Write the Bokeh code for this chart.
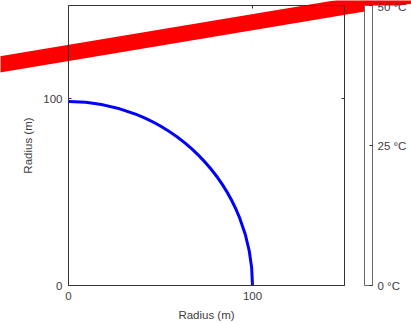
import math
from bokeh.plotting import figure
from bokeh.models import (ColorBar, LinearColorMapper, FixedTicker,
                          PrintfTickFormatter, LinearAxis, Range1d)
from bokeh.embed import file_html
from bokeh.resources import INLINE

# ---- data ----
x_ticks = [0, 100]
y_ticks = [0, 100]
axis_min, axis_max = 0, 150
circle_x = [0]
circle_y = [0]
circle_radius = [100]
red_x = [-50, 200]
red_y = [116.3, 157.5]
cbar_ticks = [0, 25, 50]
cbar_low, cbar_high = 0, 50

FONT = "Liberation Sans"
TXT = "#404040"
LINE = "#333333"

# layout in pixels (the axes box occupies px 68..344 horizontally, 5..285 vertically)
W, H = 411, 323
BOX_L, BOX_R, BOX_T, BOX_B = 68, 344, 5, 285
sx = (BOX_R - BOX_L) / (axis_max - axis_min)
sy = (BOX_B - BOX_T) / (axis_max - axis_min)
x_range = Range1d(axis_min - BOX_L / sx, axis_max + (W - BOX_R) / sx)
y_range = Range1d(axis_min - (H - BOX_B) / sy, axis_max + BOX_T / sy)

p = figure(width=W, height=H, x_range=x_range, y_range=y_range,
           output_backend="svg", toolbar_location=None,
           min_border=0, x_axis_type=None, y_axis_type=None)
p.grid.visible = False
p.outline_line_color = None
p.background_fill_color = "white"
p.border_fill_color = "white"


def make_axis(ticks, loc, label, show_labels):
    ax = LinearAxis(ticker=FixedTicker(ticks=ticks), fixed_location=loc,
                    bounds=(axis_min, axis_max),
                    major_tick_in=3, major_tick_out=0, minor_tick_line_color=None,
                    axis_line_color=LINE, major_tick_line_color=LINE,
                    major_label_text_font=FONT, major_label_text_font_size="11.5px",
                    major_label_text_color=TXT if show_labels else None,
                    major_label_standoff=6)
    if label:
        ax.axis_label = label
        ax.axis_label_text_font = FONT
        ax.axis_label_text_font_size = "11.5px"
        ax.axis_label_text_font_style = "normal"
        ax.axis_label_text_color = TXT
        ax.axis_label_standoff = 6
    return ax


p.add_layout(make_axis(x_ticks, axis_min, "Radius (m)", True), "below")
p.add_layout(make_axis(y_ticks, axis_min, "Radius (m)", True), "left")
p.add_layout(make_axis(x_ticks, axis_max, None, False), "above")
p.add_layout(make_axis(y_ticks, axis_max, None, False), "right")

p.arc(x=circle_x, y=circle_y, radius=circle_radius, start_angle=0, end_angle=math.pi / 2,
      line_color="#0000ff", line_width=3)

p.line(x=red_x, y=red_y, line_color="#ff0000", line_width=16)

mapper = LinearColorMapper(palette=["#ffffff"], low=cbar_low, high=cbar_high)
cbar = ColorBar(color_mapper=mapper, ticker=FixedTicker(ticks=cbar_ticks),
                formatter=PrintfTickFormatter(format="%d °C"),
                location=(364, H - BOX_B), width=8, height=BOX_B - BOX_T,
                padding=0, margin=0, label_standoff=5,
                major_tick_in=3, major_tick_out=0, major_tick_line_color=LINE,
                minor_tick_line_color=None,
                bar_line_color="#666666", bar_line_width=1,
                border_line_color=None, background_fill_color="white", background_fill_alpha=1,
                major_label_text_font=FONT, major_label_text_font_size="11.5px",
                major_label_text_color=TXT)
p.add_layout(cbar)

open("out.html", "w").write(file_html(p, INLINE))
